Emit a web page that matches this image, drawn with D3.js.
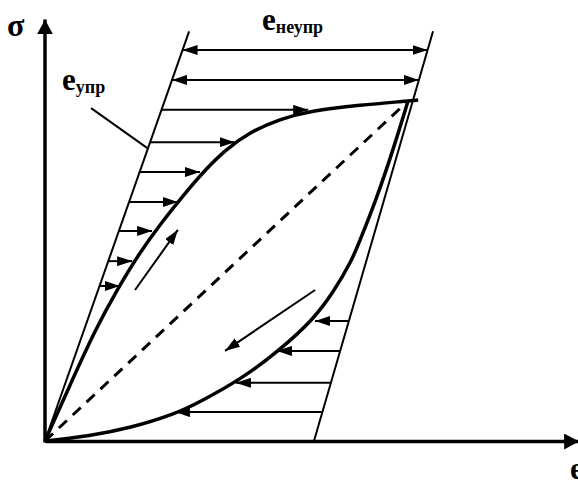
<!DOCTYPE html>
<html>
<head>
<meta charset="utf-8">
<script src="https://cdn.jsdelivr.net/npm/d3@7"></script>
<style>
  body { margin: 0; background: #fff; }
  text { font-family: "Liberation Serif", "Times New Roman", serif; font-weight: bold; fill: #000; }
</style>
</head>
<body>
<div id="chart"></div>
<script>
// strain / stress in relative units, 100 = the peak of the loop
const loadingCurve = [[0,0],[6.9,16.5],[13.8,32.6],[19.8,44.4],[26.2,55.6],[32.2,64.4],[38.6,72.9],[44.1,79.7],[49.6,85.6],[56.5,90.9],[64.7,94.7],[73,97.1],[86.8,98.8],[100,100],[102.8,100.3]];
const unloadingCurve = [[100,100],[95.9,85.6],[91.2,70.9],[86.8,59.1],[84.6,53.2],[79.3,43.5],[73.8,35.6],[64.7,26.8],[54.5,18.5],[42.7,11.5],[35.8,7.9],[23.4,3.8],[12.4,1.5],[0,0]];
const elasticLine = [[0,0],[39.7,120.5]];
const inelasticLine = [[74.1,0],[106.9,120.5]];
// [stress, strain at arrow tip]
const loadArrows = [[97.4,72.5],[87.9,52.3],[79.1,42.7],[70.3,36.6],[61.8,29.5],[52.9,24.0],[45.6,20.6]];
const unloadArrows = [[35.3,74.4],[26.5,63.9],[17.1,52.6],[8.5,35.8]];
const spanLevels = [115, 106.2];
const directionArrows = [[[24.8,44.4],[36.6,62.1]], [[74.4,44.4],[49.6,26.5]]];
const leader = [[12.7,97.9],[28.1,86.2]];
const strainMax = 147;
const stressMax = 124;

const width = 578, height = 482;

const svg = d3.select("#chart").append("svg")
    .attr("width", width)
    .attr("height", height);

const x = d3.scaleLinear().domain([0, 100]).range([45, 408]);
const y = d3.scaleLinear().domain([0, 100]).range([441, 101]);

// arrow heads
const defs = svg.append("defs");
function addMarker(id, len, w) {
    defs.append("marker")
        .attr("id", id)
        .attr("viewBox", `0 0 ${len} ${w}`)
        .attr("refX", len)
        .attr("refY", w / 2)
        .attr("markerWidth", len)
        .attr("markerHeight", w)
        .attr("markerUnits", "userSpaceOnUse")
        .attr("orient", "auto-start-reverse")
        .append("path")
        .attr("d", `M0,0L${len},${w / 2}L0,${w}Z`)
        .attr("fill", "#000");
}
addMarker("head", 15, 10);
addMarker("axisHead", 15, 16);

// axes (no ticks)
const xAxisScale = d3.scaleLinear().domain([0, strainMax]).range([x(0), x(strainMax)]);
const yAxisScale = d3.scaleLinear().domain([0, stressMax]).range([y(0), y(stressMax)]);

const gx = svg.append("g")
    .attr("transform", `translate(0,${y(0)})`)
    .call(d3.axisBottom(xAxisScale).ticks(0).tickSizeOuter(0));
const gy = svg.append("g")
    .attr("transform", `translate(${x(0)},0)`)
    .call(d3.axisLeft(yAxisScale).ticks(0).tickSizeOuter(0));
[gx, gy].forEach(g => g.select(".domain")
    .attr("stroke", "#000")
    .attr("stroke-width", 3.5)
    .attr("marker-end", "url(#axisHead)"));
gy.select(".domain").attr("d", `M0,${y(0) + 1.5}V${y(stressMax)}`);

const line = d3.line().x(d => x(d[0])).y(d => y(d[1]));
const curve = d3.line().x(d => x(d[0])).y(d => y(d[1])).curve(d3.curveBasis);

function lineAt(l, s) {
    return l[0][0] + (l[1][0] - l[0][0]) * (s - l[0][1]) / (l[1][1] - l[0][1]);
}

// boundary lines
[elasticLine, inelasticLine].forEach(l => {
    svg.append("path")
        .attr("d", line(l))
        .attr("fill", "none")
        .attr("stroke", "#000")
        .attr("stroke-width", 2);
});

// dashed secant
svg.append("path")
    .attr("d", line([[0, 0], [100, 100]]))
    .attr("fill", "none")
    .attr("stroke", "#000")
    .attr("stroke-width", 3)
    .attr("stroke-dasharray", "11,8");

// horizontal arrows
loadArrows.forEach(d => {
    svg.append("path")
        .attr("d", line([[lineAt(elasticLine, d[0]), d[0]], [d[1], d[0]]]))
        .attr("stroke", "#000")
        .attr("stroke-width", 2)
        .attr("marker-end", "url(#head)");
});
unloadArrows.forEach(d => {
    svg.append("path")
        .attr("d", line([[lineAt(inelasticLine, d[0]), d[0]], [d[1], d[0]]]))
        .attr("stroke", "#000")
        .attr("stroke-width", 2)
        .attr("marker-end", "url(#head)");
});
spanLevels.forEach(s => {
    svg.append("path")
        .attr("d", line([[lineAt(elasticLine, s), s], [lineAt(inelasticLine, s), s]]))
        .attr("stroke", "#000")
        .attr("stroke-width", 2)
        .attr("marker-start", "url(#head)")
        .attr("marker-end", "url(#head)");
});

// loop curves
[loadingCurve, unloadingCurve].forEach(c => {
    svg.append("path")
        .attr("d", curve(c))
        .attr("fill", "none")
        .attr("stroke", "#000")
        .attr("stroke-width", 3.5);
});

// direction arrows
directionArrows.forEach(a => {
    svg.append("path")
        .attr("d", line(a))
        .attr("stroke", "#000")
        .attr("stroke-width", 2)
        .attr("marker-end", "url(#head)");
});

// leader for elastic label
svg.append("path")
    .attr("d", line(leader))
    .attr("stroke", "#000")
    .attr("stroke-width", 2);

// labels
svg.append("text").attr("x", 7).attr("y", 36).style("font-size", "32px").text("σ");

const t1 = svg.append("text").attr("x", 62).attr("y", 90).style("font-size", "31px");
t1.append("tspan").text("e");
t1.append("tspan").attr("dy", 3).style("font-size", "18px").text("упр");

const t2 = svg.append("text").attr("x", 262).attr("y", 30).style("font-size", "31px");
t2.append("tspan").text("e");
t2.append("tspan").attr("dy", 3).style("font-size", "18px").text("неупр");

svg.append("text").attr("x", 570).attr("y", 479).style("font-size", "31px").text("e");
</script>
</body>
</html>
